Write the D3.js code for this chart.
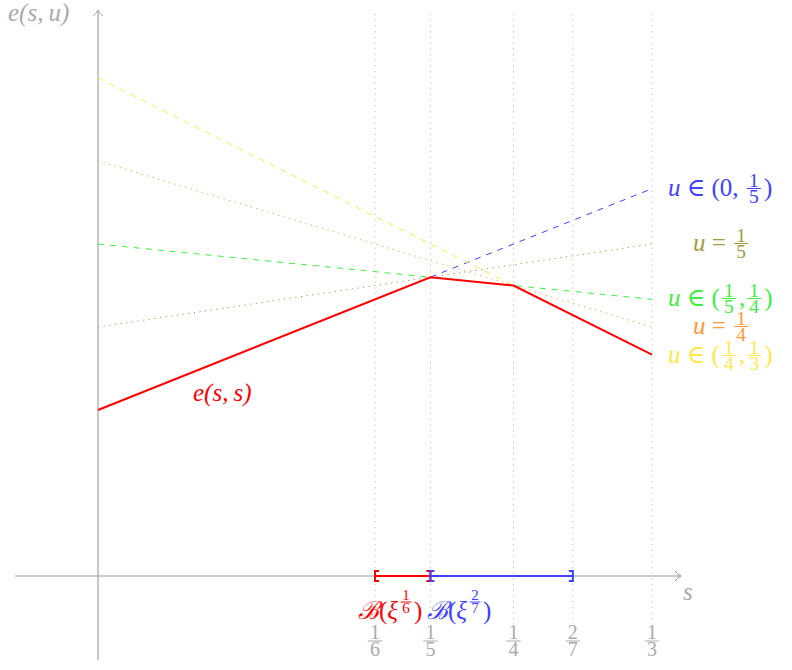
<!DOCTYPE html>
<html>
<head>
<meta charset="utf-8">
<script src="https://cdnjs.cloudflare.com/ajax/libs/d3/7.8.5/d3.min.js"></script>
<style>
	body { margin: 0; background: #fff; }
	text { font-family: "Liberation Serif", "DejaVu Serif", serif; }
</style>
</head>
<body>
<div id="chart"></div>
<script>
// tick positions on s axis and their labels
var tickVals = [1/6, 1/5, 1/4, 2/7, 1/3];
var tickLabels = [["1","6"], ["1","5"], ["1","4"], ["2","7"], ["1","3"]];

// e(s,s) breakpoints
var diagS = [0, 1/5, 1/4, 1/3];
var diagE = [2, 3.6, 3.5, 8/3];

// the e(s,u) lines for fixed u
var uNames = ["blue", "olive", "green", "orange", "yellow"];
var uFrom = [1/5, 0, 0, 0, 0];
var uTo = [1/3, 1/3, 1/3, 1/3, 1/3];
var uStart = [3.6, 3, 4, 5, 6];
var uEnd = [14/3, 4, 10/3, 3, 8/3];
var uLabels = [
	["u\u2005∈\u2005(0,\u2005", ["1","5"], ")"],
	["u\u2005=\u2005", ["1","5"], ""],
	["u\u2005∈\u2005(", ["1","5"], ",", ["1","4"], ")"],
	["u\u2005=\u2005", ["1","4"], ""],
	["u\u2005∈\u2005(", ["1","4"], ",", ["1","3"], ")"]
];

// intervals B(xi^a)
var ballFrom = [1/6, 1/5];
var ballTo = [1/5, 2/7];
var ballExp = [["1","6"], ["2","7"]];

var colors = {
	blue: "#4040ff", olive: "#a09a40", green: "#40ee40",
	orange: "#ff9933", yellow: "#ffe84a", red: "#ff0000", gray: "#aaaaaa"
};
var dashes = {
	blue: "6,6", olive: "1.2,4.5", green: "6,6", orange: "1.2,4.5", yellow: "6,6"
};

var svg = d3.select("#chart").append("svg")
	.attr("width", 792)
	.attr("height", 670);

var x = d3.scaleLinear().domain([0, 1/3]).range([98, 652]);
var y = d3.scaleLinear().domain([0, 6]).range([576, 78]);

// vertical dotted guides
tickVals.forEach(function(t) {
	svg.append("line")
		.attr("x1", x(t)).attr("x2", x(t))
		.attr("y1", 14).attr("y2", 624)
		.attr("stroke", "#bbb")
		.attr("stroke-width", 1)
		.attr("stroke-dasharray", "1.2,4.5");
});

// axes
svg.append("line")
	.attr("x1", 15).attr("x2", 680)
	.attr("y1", y(0)).attr("y2", y(0))
	.attr("stroke", "#999").attr("stroke-width", 1);
svg.append("line")
	.attr("x1", x(0)).attr("x2", x(0))
	.attr("y1", 660).attr("y2", 10)
	.attr("stroke", colors.gray).attr("stroke-width", 1.3);

svg.append("path")
	.attr("d", "M675,571 Q678,575 681,576 Q678,577 675,581")
	.attr("fill", "none").attr("stroke", "#999").attr("stroke-width", 1);
svg.append("path")
	.attr("d", "M93,16 Q97,13 98,10 Q99,13 103,16")
	.attr("fill", "none").attr("stroke", colors.gray).attr("stroke-width", 1);

svg.append("text")
	.attr("x", 8).attr("y", 21)
	.attr("font-size", 25).attr("font-style", "italic")
	.attr("fill", colors.gray)
	.text("e(s,\u2009u)");
svg.append("text")
	.attr("x", 683).attr("y", 600)
	.attr("font-size", 25).attr("font-style", "italic")
	.attr("fill", colors.gray)
	.text("s");

var lineFunction = d3.line()
	.x(function(d) { return x(d.s); })
	.y(function(d) { return y(d.e); });

// u lines
uNames.forEach(function(n, i) {
	svg.append("path")
		.attr("d", lineFunction([{s: uFrom[i], e: uStart[i]}, {s: uTo[i], e: uEnd[i]}]))
		.attr("stroke", colors[n])
		.attr("stroke-width", 1)
		.attr("stroke-dasharray", dashes[n])
		.attr("fill", "none");
});

// e(s,s)
var diag = diagS.map(function(s, i) { return {s: s, e: diagE[i]}; });
svg.append("path")
	.attr("d", lineFunction(diag))
	.attr("stroke", colors.red)
	.attr("stroke-width", 2)
	.attr("fill", "none");

svg.append("text")
	.attr("x", 193).attr("y", 401)
	.attr("font-size", 25).attr("font-style", "italic")
	.attr("fill", colors.red)
	.text("e(s,\u2009s)");

// draws a stacked fraction centred at cx, bar at cy
var fraction = function(g, cx, cy, f, size, c) {
	g.append("text")
		.attr("x", cx).attr("y", cy - 2)
		.attr("text-anchor", "middle")
		.attr("font-size", size).attr("fill", c)
		.text(f[0]);
	g.append("line")
		.attr("x1", cx - size * 0.36).attr("x2", cx + size * 0.36)
		.attr("y1", cy).attr("y2", cy)
		.attr("stroke", c).attr("stroke-width", 1);
	g.append("text")
		.attr("x", cx).attr("y", cy + size * 0.76)
		.attr("text-anchor", "middle")
		.attr("font-size", size).attr("fill", c)
		.text(f[1]);
	return size * 0.72;
};

// writes a label made of text pieces and fractions, left to right
var mathLabel = function(x0, baseline, parts, size, c) {
	var g = svg.append("g");
	var cx = x0;
	parts.forEach(function(p) {
		if (typeof p === "string") {
			if (p === "") return;
			var segs = p.split("u");
			var t = g.append("text")
				.attr("x", cx).attr("y", baseline)
				.attr("font-size", size).attr("fill", c);
			segs.forEach(function(s, k) {
				if (k > 0) t.append("tspan").attr("font-style", "italic").text("u");
				if (s) t.append("tspan").text(s);
			});
			cx += t.node().getComputedTextLength();
		} else {
			var fs = size * 0.78;
			var w = fraction(g, cx + 2 + fs * 0.36, baseline - size * 0.3, p, fs, c);
			cx += w + 5;
		}
	});
	return g;
};

var labelX = [668, 693, 668, 693, 668];
var labelY = [196, 251, 306, 334, 363];
uNames.forEach(function(n, i) {
	mathLabel(labelX[i], labelY[i], uLabels[i], 25, colors[n]);
});

// tick fraction labels
tickVals.forEach(function(t, i) {
	fraction(svg, x(t), 641, tickLabels[i], 20, colors.gray);
});

// interval brackets
var ballColors = [colors.red, colors.blue];
ballFrom.forEach(function(a, i) {
	var c = ballColors[i];
	var x1 = x(a), x2 = x(ballTo[i]), y0 = y(0);
	svg.append("line")
		.attr("x1", x1).attr("x2", x2).attr("y1", y0).attr("y2", y0)
		.attr("stroke", c).attr("stroke-width", 2);
	svg.append("path")
		.attr("d", "M" + (x1 + 4) + "," + (y0 - 5) + "H" + x1 + "V" + (y0 + 5) + "H" + (x1 + 4))
		.attr("fill", "none").attr("stroke", c).attr("stroke-width", 2);
	svg.append("path")
		.attr("d", "M" + (x2 - 4) + "," + (y0 - 5) + "H" + x2 + "V" + (y0 + 5) + "H" + (x2 - 4))
		.attr("fill", "none").attr("stroke", c).attr("stroke-width", 2);
});

// B(xi^a) labels
var ballLabelX = [358, 427];
ballFrom.forEach(function(a, i) {
	var c = ballColors[i];
	var g = svg.append("g");
	var t = g.append("text")
		.attr("x", ballLabelX[i]).attr("y", 619)
		.attr("font-size", 25).attr("fill", c);
	t.append("tspan").attr("font-style", "italic").text("ℬ");
	t.append("tspan").text("(");
	t.append("tspan").attr("font-style", "italic").text("ξ");
	var w = t.node().getComputedTextLength();
	fraction(g, ballLabelX[i] + w + 8, 602, ballExp[i], 15, c);
	g.append("text")
		.attr("x", ballLabelX[i] + w + 16).attr("y", 619)
		.attr("font-size", 25).attr("fill", c)
		.text(")");
});
</script>
</body>
</html>
